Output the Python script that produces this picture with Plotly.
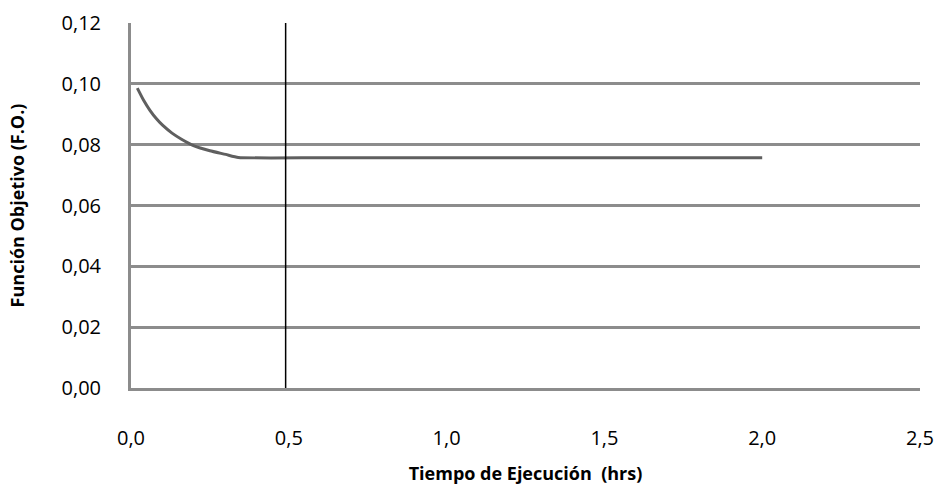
import plotly.graph_objects as go

tiempo_hrs = [0.02, 0.04, 0.06, 0.08, 0.10, 0.13, 0.16, 0.20, 0.25, 0.30, 0.34, 0.60, 1.00, 1.50, 2.00]
funcion_objetivo = [0.0986, 0.0946, 0.0913, 0.0886, 0.0864, 0.0838, 0.0818, 0.0796, 0.0780, 0.0768, 0.0758, 0.0757, 0.0757, 0.0757, 0.0757]
marca_vertical = 0.49

x_ticks = [0, 0.5, 1.0, 1.5, 2.0, 2.5]
y_ticks = [0, 0.02, 0.04, 0.06, 0.08, 0.10, 0.12]

FONT = "'Open Sans', sans-serif"
GRID = "#8c8c8c"

fig = go.Figure()
fig.add_trace(go.Scatter(
    x=tiempo_hrs, y=funcion_objetivo, mode="lines",
    line=dict(color="#5f5f5f", width=3, shape="spline", smoothing=0.5), showlegend=False,
))
fig.add_shape(type="line", x0=marca_vertical, x1=marca_vertical, y0=0, y1=0.12,
              xref="x", yref="y", line=dict(color="black", width=1.5))

fig.update_layout(
    width=939, height=491,
    margin=dict(l=131, r=19, t=23, b=103),
    paper_bgcolor="white", plot_bgcolor="white",
    separators=",.",
    font=dict(family=FONT, size=16, color="black"),
    showlegend=False,
)
fig.update_xaxes(
    range=[0, 2.5], tickvals=x_ticks, tickformat=".1f", automargin=False,
    showgrid=False, zeroline=False,
    showline=True, linecolor=GRID, linewidth=3,
    ticks="outside", ticklen=0, ticklabelstandoff=30,
    tickfont=dict(size=20),
    title=dict(text="<b>Tiempo de Ejecución  (hrs)</b>", font=dict(size=18), standoff=18),
)
fig.update_yaxes(
    range=[0, 0.12], tickvals=y_ticks, tickformat=".2f", automargin=False,
    showgrid=True, gridcolor=GRID, gridwidth=3, zeroline=False,
    showline=True, linecolor=GRID, linewidth=3,
    ticks="outside", ticklen=0, ticklabelstandoff=23,
    tickfont=dict(size=20),
    title=dict(text="<b>Función Objetivo (F.O.)</b>", font=dict(size=18), standoff=33),
)

fig.write_html("out.html", config={"displayModeBar": False},
               post_script="document.body.style.margin='0';document.body.style.overflow='hidden';")
